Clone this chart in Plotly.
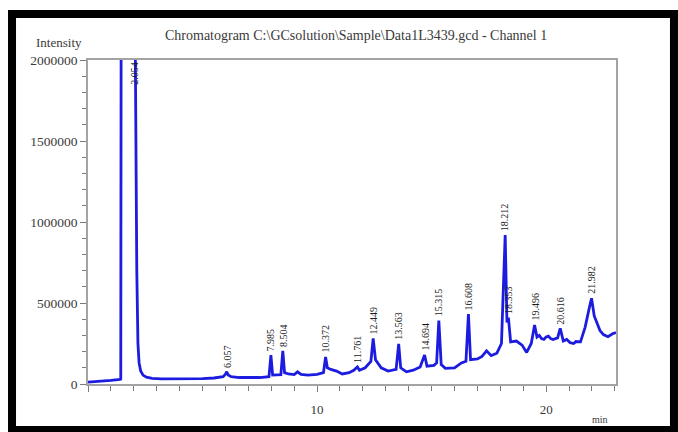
import plotly.graph_objects as go

# Retention time (min) and detector intensity
time_min = [0.0, 0.5, 1.0, 1.40, 1.43, 1.45, 1.8, 2.04, 2.08, 2.13, 2.18, 2.23, 2.30, 2.40, 2.55, 2.8,
            3.2, 4.0, 5.0, 5.5, 5.9, 6.0, 6.057, 6.12, 6.25, 6.6, 7.0, 7.5, 7.9, 7.985, 8.06, 8.3,
            8.42, 8.504, 8.58, 8.75, 9.0, 9.15, 9.3, 9.6, 10.0, 10.28, 10.372, 10.45, 10.6, 10.85,
            11.1, 11.4, 11.6, 11.761, 11.85, 12.1, 12.35, 12.449, 12.55, 12.8, 13.1, 13.45, 13.563,
            13.65, 13.9, 14.2, 14.5, 14.694, 14.8, 15.1, 15.22, 15.315, 15.42, 15.6, 16.0, 16.3,
            16.5, 16.608, 16.7, 17.0, 17.2, 17.4, 17.6, 17.85, 18.05, 18.212, 18.29, 18.353, 18.45,
            18.7, 18.95, 19.15, 19.35, 19.496, 19.6, 19.7, 19.8, 19.9, 20.0, 20.1, 20.2, 20.3, 20.5,
            20.616, 20.75, 20.9, 21.05, 21.2, 21.3, 21.5, 21.7, 21.9, 21.982, 22.1, 22.2, 22.35,
            22.5, 22.7, 22.9, 23.05]
intensity = [12000, 16000, 22000, 28000, 30000, 2600000, 3000000, 2600000, 1500000, 700000, 250000,
             130000, 80000, 55000, 42000, 35000,
             32000, 31000, 33000, 37000, 45000, 60000, 76000, 55000, 45000, 40000, 38000, 40000,
             45000, 178000, 55000, 55000,
             58000, 205000, 70000, 62000, 58000, 75000, 60000, 55000, 60000, 70000, 167000, 100000,
             90000, 80000,
             62000, 70000, 85000, 105000, 85000, 100000, 140000, 282000, 150000, 100000, 80000,
             90000, 247000,
             100000, 75000, 85000, 105000, 179000, 110000, 115000, 130000, 392000, 120000, 97000,
             100000, 130000,
             140000, 432000, 150000, 155000, 170000, 205000, 175000, 190000, 250000, 920000,
             380000, 410000, 260000,
             265000, 240000, 195000, 250000, 364000, 290000, 300000, 280000, 275000, 290000,
             295000, 280000, 275000, 285000,
             343000, 265000, 275000, 255000, 250000, 262000, 260000, 350000, 480000, 529000,
             420000, 380000, 330000,
             305000, 292000, 310000, 318000]

# Peak annotations (retention time label and peak apex intensity)
peak_times = [6.057, 7.985, 8.504, 10.372, 11.761, 12.449, 13.563, 14.694, 15.315, 16.608,
              18.212, 18.353, 19.496, 20.616, 21.982]
peak_heights = [76000, 178000, 205000, 167000, 105000, 282000, 247000, 179000, 392000, 432000,
                920000, 410000, 364000, 343000, 529000]
solvent_label = "2.054"

y_tick_step = 500000
y_minor_step = 100000
x_tick_step = 10
x_minor_step = 1

title_text = "Chromatogram C:\\GCsolution\\Sample\\Data1L3439.gcd - Channel 1"

SERIF = "Liberation Serif, Times New Roman, serif"
FRAME = "#a3a3a3"
TICK = "#7a7a7a"
TXT = "#3a3a3a"

fig = go.Figure()
fig.add_trace(go.Scatter(x=time_min, y=intensity, mode="lines",
                         line=dict(color="#1c1ce0", width=2.8), hoverinfo="x+y"))

annotations = []
for t, h in zip(peak_times, peak_heights):
    annotations.append(dict(x=t, y=h, xref="x", yref="y", text="%.3f" % t, showarrow=False,
                            textangle=-90, xanchor="center", yanchor="bottom", yshift=2,
                            font=dict(family=SERIF, size=10, color="#1a1a1a")))
annotations.append(dict(x=2.054, y=0.958, xref="x", yref="paper", text=solvent_label,
                        showarrow=False, textangle=-90, xanchor="center", yanchor="middle",
                        font=dict(family=SERIF, size=10, color="#1a1a1a")))
annotations.append(dict(x=0.508, y=1.077, xref="paper", yref="paper", text=title_text,
                        showarrow=False, xanchor="center", yanchor="middle",
                        font=dict(family=SERIF, size=14, color=TXT)))
annotations.append(dict(x=-0.008, y=1.055, xref="paper", yref="paper", text="Intensity",
                        showarrow=False, xanchor="right", yanchor="middle",
                        font=dict(family=SERIF, size=13, color=TXT)))
annotations.append(dict(x=0.97, y=-0.111, xref="paper", yref="paper", text="min",
                        showarrow=False, xanchor="center", yanchor="middle",
                        font=dict(family=SERIF, size=10, color=TXT)))

fig.update_layout(
    width=678, height=432,
    margin=dict(l=88, r=62, t=60, b=48),
    paper_bgcolor="white", plot_bgcolor="white",
    showlegend=False,
    annotations=annotations,
    shapes=[dict(type="rect", xref="paper", yref="paper",
                 x0=-0.1439, x1=1.1098, y0=-0.142, y1=1.142,
                 line=dict(color="black", width=8), fillcolor="rgba(0,0,0,0)", layer="below")],
)
fig.update_xaxes(range=[0, 23.05], showgrid=False, zeroline=False,
                 showline=True, linecolor=FRAME, linewidth=1.5, mirror=True,
                 tickmode="linear", tick0=0, dtick=x_tick_step, labelalias={0: " ", "0": " "},
                 ticks="outside", ticklen=6, tickwidth=1.2, tickcolor=TICK, ticklabelstandoff=7,
                 tickfont=dict(family=SERIF, size=13, color=TXT),
                 minor=dict(dtick=x_minor_step, tick0=0, ticks="outside", ticklen=5,
                            tickwidth=1.2, tickcolor=TICK, showgrid=False))
fig.update_yaxes(range=[0, 2000000], showgrid=False, zeroline=False,
                 showline=True, linecolor=FRAME, linewidth=1.5, mirror=True,
                 tickmode="linear", tick0=0, dtick=y_tick_step, tickformat="d",
                 ticks="outside", ticklen=6, tickwidth=1.2, tickcolor=TICK,
                 tickfont=dict(family=SERIF, size=13.5, color=TXT),
                 minor=dict(dtick=y_minor_step, tick0=0, ticks="outside", ticklen=4,
                            tickwidth=1.2, tickcolor=TICK, showgrid=False))

fig.write_html("out.html", config={"displayModeBar": False},
               post_script="document.body.style.margin='0';document.body.style.padding='0';")
